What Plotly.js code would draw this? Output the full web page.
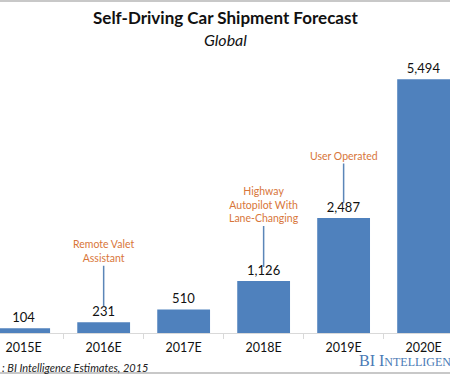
<!DOCTYPE html>
<html>
<head>
<meta charset="utf-8">
<script src="https://cdn.plot.ly/plotly-3.0.1.min.js"></script>
<style>html,body{margin:0;padding:0;background:#fff;}#chart{width:450px;height:375px;}</style>
</head>
<body>
<div id="chart"></div>
<script>
const categories = ["2015E", "2016E", "2017E", "2018E", "2019E", "2020E"];
const shipments = [104, 231, 510, 1126, 2487, 5494];
const milestoneCategories = ["2016E", "2018E", "2019E"];
const milestoneLabels = ["Remote Valet<br>Assistant", "Highway<br>Autopilot With<br>Lane-Changing", "User Operated"];
const titleText = "Self-Driving Car Shipment Forecast";
const subtitleText = "Global";
const sourceText = ": BI Intelligence Estimates, 2015";

const FONT = "Lato, 'Open Sans', sans-serif";
const milestoneOffsets = [-71, -76, -62];
const milestoneStandoff = [16, 14, 15];

const annotations = milestoneCategories.map((c, i) => ({
  x: c, y: shipments[categories.indexOf(c)], xref: 'x', yref: 'y',
  text: milestoneLabels[i], showarrow: true, arrowhead: 0, arrowwidth: 1.5,
  arrowcolor: '#5b86b8', ax: 0, ay: milestoneOffsets[i], standoff: milestoneStandoff[i],
  font: {family: FONT, size: 10.5, color: '#d8763a'}, align: 'center'
}));

annotations.push(
  {xref: 'paper', yref: 'paper', x: 0.5, y: 1.1575, yanchor: 'middle', showarrow: false,
   text: '<b>' + titleText + '</b>', font: {family: FONT, size: 17, color: '#111'}},
  {xref: 'paper', yref: 'paper', x: 0.5, y: 1.0733, yanchor: 'middle', showarrow: false,
   text: '<i>' + subtitleText + '</i>', font: {family: FONT, size: 16, color: '#111'}},
  {xref: 'paper', yref: 'paper', x: 0, xanchor: 'left', y: -0.128, yanchor: 'middle', showarrow: false,
   text: '<i>' + sourceText + '</i>', font: {family: FONT, size: 11, color: '#222'}},
  {xref: 'paper', yref: 'paper', x: 0.793, xanchor: 'left', y: -0.099, yanchor: 'middle', showarrow: false,
   text: 'BI I<span style="font-size:12px">NTELLIGENCE</span>', font: {family: "'Liberation Serif', serif", size: 16, color: '#4a7ab5'}}
);

const trace = {
  type: 'bar', x: categories, y: shipments,
  marker: {color: '#4f81bd'},
  texttemplate: '%{y:,}', textposition: 'outside', cliponaxis: false,
  textfont: {family: FONT, size: 13, color: '#111'},
  hoverinfo: 'skip'
};

const layout = {
  width: 450, height: 375,
  margin: {l: 0, r: 0, t: 60, b: 42, pad: 0},
  paper_bgcolor: '#fff', plot_bgcolor: '#fff',
  bargap: 0.34,
  showlegend: false,
  xaxis: {type: 'category', range: [-0.296, 5.33], showline: true, linecolor: '#d9d9d9', linewidth: 1,
    ticks: 'outside', tickson: 'boundaries', ticklen: 5, tickcolor: '#d9d9d9', ticklabelstandoff: 3,
    tickfont: {family: FONT, size: 12.5, color: '#111'}, showgrid: false, zeroline: false, fixedrange: true},
  yaxis: {range: [0, 5909], visible: false, showgrid: false, zeroline: false, fixedrange: true},
  annotations: annotations,
  shapes: [
    {type: 'line', xref: 'paper', yref: 'paper', x0: 0, x1: 1, y0: 1.216, y1: 1.216, line: {color: '#c8c8c8', width: 2}},
    {type: 'line', xref: 'paper', yref: 'paper', x0: 0, x1: 1, y0: -0.1465, y1: -0.1465, line: {color: '#c8c8c8', width: 2}}
  ]
};

Plotly.newPlot('chart', [trace], layout, {displayModeBar: false, staticPlot: true});
</script>
</body>
</html>
